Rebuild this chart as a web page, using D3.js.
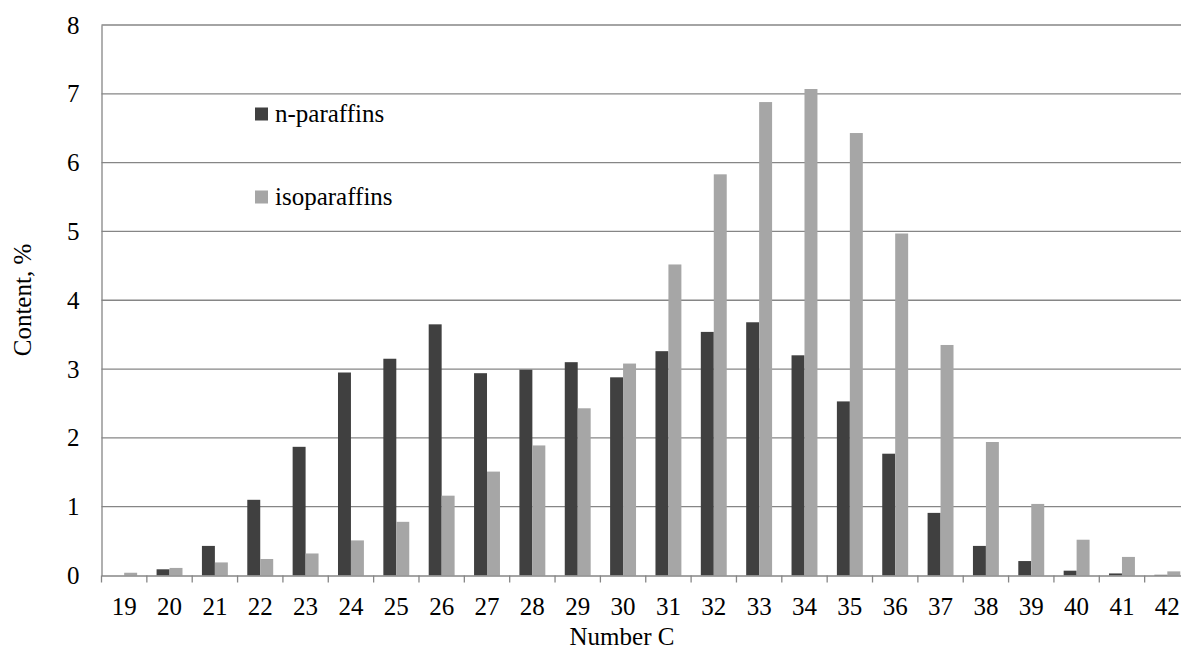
<!DOCTYPE html>
<html>
<head>
<meta charset="utf-8">
<script src="https://cdn.jsdelivr.net/npm/d3@7"></script>
<style>
  html, body { margin: 0; padding: 0; background: #fff; overflow: hidden; }
  svg { display: block; }
  text { font-family: "Liberation Serif", "Times New Roman", serif; fill: #000; }
</style>
</head>
<body>
<svg id="chart" width="1181" height="650"></svg>
<script>
const categories = ["19","20","21","22","23","24","25","26","27","28","29","30","31","32","33","34","35","36","37","38","39","40","41","42"];
const nParaffins = [0, 0.09, 0.43, 1.10, 1.87, 2.95, 3.15, 3.65, 2.94, 2.99, 3.10, 2.88, 3.26, 3.54, 3.68, 3.20, 2.53, 1.77, 0.91, 0.43, 0.21, 0.07, 0.03, 0.01];
const isoParaffins = [0.04, 0.11, 0.19, 0.24, 0.32, 0.51, 0.78, 1.16, 1.51, 1.89, 2.43, 3.08, 4.52, 5.83, 6.88, 7.07, 6.43, 4.97, 3.35, 1.94, 1.04, 0.52, 0.27, 0.06];
const seriesNames = ["n-paraffins", "isoparaffins"];
const seriesColors = ["#404040", "#a6a6a6"];
const yTicks = [0, 1, 2, 3, 4, 5, 6, 7, 8];

const FONT = '"Liberation Serif", "Times New Roman", serif';
const svg = d3.select("#chart");
const mLeft = 101.5, mRight = 1190, mTop = 25, mBottom = 575.5;

const x = d3.scaleBand().domain(categories).range([mLeft, mRight]).padding(0);
const x1 = d3.scaleBand().domain(seriesNames).range([0, x.bandwidth()]).paddingInner(0).paddingOuter(0.75);
const y = d3.scaleLinear().domain([0, 8]).range([mBottom, mTop]);

// gridlines
svg.append("g").selectAll("line").data(yTicks.filter(d => d > 0)).join("line")
  .attr("x1", mLeft).attr("x2", mRight)
  .attr("y1", d => y(d)).attr("y2", d => y(d))
  .attr("stroke", "#868686").attr("stroke-width", 1.3);

// bars
const series = [nParaffins, isoParaffins];
series.forEach((vals, si) => {
  svg.append("g").selectAll("rect").data(vals).join("rect")
    .attr("x", (d, i) => x(categories[i]) + x1(seriesNames[si]))
    .attr("width", x1.bandwidth())
    .attr("y", d => y(d))
    .attr("height", d => y(0) - y(d))
    .attr("fill", seriesColors[si]);
});

// y axis
const yAxis = svg.append("g").attr("transform", `translate(${mLeft},0)`)
  .call(d3.axisLeft(y).tickValues(yTicks).tickSize(0).tickPadding(22).tickFormat(d3.format("d")));
yAxis.attr("font-family", null);
yAxis.select(".domain").attr("stroke", "#868686").attr("stroke-width", 1.3);
yAxis.selectAll("text").style("font-size", "25px").style("font-family", FONT).attr("fill", "#000");

// x axis
const xAxis = svg.append("g").attr("transform", `translate(0,${mBottom})`)
  .call(d3.axisBottom(x).tickSize(0).tickPadding(22));
xAxis.attr("font-family", null);
xAxis.select(".domain").attr("stroke", "#868686").attr("stroke-width", 1.3);
xAxis.selectAll("text").style("font-size", "25px").style("font-family", FONT).attr("fill", "#000");
// category boundary ticks
xAxis.append("g").selectAll("line").data(categories).join("line")
  .attr("x1", d => x(d)).attr("x2", d => x(d))
  .attr("y1", 0).attr("y2", 7)
  .attr("stroke", "#868686").attr("stroke-width", 1.3);

// axis titles
svg.append("text").attr("x", 622).attr("y", 645).attr("text-anchor", "middle")
  .style("font-size", "25px").style("font-family", FONT).text("Number C");
svg.append("text").attr("transform", "translate(31,300) rotate(-90)").attr("text-anchor", "middle")
  .style("font-size", "25px").style("font-family", FONT).text("Content,  %");

// legend
const legendY = [114, 197];
seriesNames.forEach((name, i) => {
  svg.append("rect").attr("x", 255).attr("y", legendY[i] - 6.5).attr("width", 13).attr("height", 13)
    .attr("fill", seriesColors[i]);
  svg.append("text").attr("x", 275).attr("y", legendY[i]).attr("dy", "0.32em")
    .style("font-size", "25px").style("font-family", FONT).text(name);
});
</script>
</body>
</html>
